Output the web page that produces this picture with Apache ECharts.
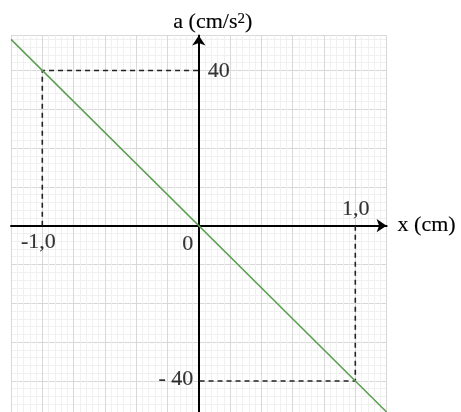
<!DOCTYPE html>
<html>
<head>
<meta charset="utf-8">
<script src="https://cdn.jsdelivr.net/npm/echarts@6/dist/echarts.min.js"></script>
<style>
  html, body { margin: 0; padding: 0; background: #fff; }
  #chart { width: 461px; height: 412px; }
</style>
</head>
<body>
<div id="chart"></div>
<script>
// a = -40 x  (cm/s^2 vs cm)
const lineX = [-1.2, 1.2]
const lineA = [48, -48]

// dashed guides to the extreme points
const guideX = [-1, 1]
const guideA = [40, -40]

// tick labels written next to the axes
const tickText = ['40', '- 40', '1,0', '-1,0', '0']
const tickAt = [[0, 40], [0, -40], [1, 0], [-1, 0], [0, 0]]

const serif = "'Liberation Serif', serif"
const major = '#d8d8d8'
const minor = '#f0f0f0'
const ink = { fontFamily: serif, fontSize: 22, color: '#000', textBorderColor: '#000', textBorderWidth: 0.15 }

// offsets of each tick label from its anchor
const tickOffset = [[20, 1], [-23, -2], [0.5, -16], [-4, 17], [-11, 19]]

const guides = guideX.map((x, i) => [[x, 0], [x, guideA[i]], [0, guideA[i]]])

const chart = echarts.init(document.getElementById('chart'))

chart.setOption({
  animation: false,
  grid: { left: 11, top: 35.5, width: 375.6, height: 379.1 },
  xAxis: {
    type: 'value',
    min: -1.2,
    max: 1.2,
    interval: 0.04,
    name: 'x (cm)',
    nameLocation: 'end',
    nameGap: 11,
    nameTextStyle: ink,
    axisLine: {
      onZero: true,
      symbol: ['none', 'arrow'],
      symbolSize: [10, 10],
      lineStyle: { color: '#000', width: 2 }
    },
    axisTick: { show: false },
    axisLabel: { show: false },
    splitLine: {
      show: true,
      lineStyle: { color: [major, minor, minor, minor, minor], width: 1 }
    }
  },
  yAxis: {
    type: 'value',
    min: -48,
    max: 49,
    interval: 2,
    name: 'a (cm/s{sup|2})',
    nameLocation: 'end',
    nameGap: 2,
    nameTextStyle: Object.assign({}, ink, {
      padding: [0, 0, 0, 28],
      rich: {
        sup: Object.assign({}, ink, { fontSize: 15, verticalAlign: 'top', padding: [0, 0, 7, 0] })
      }
    }),
    axisLine: {
      onZero: true,
      symbol: ['none', 'arrow'],
      symbolSize: [10, 10],
      lineStyle: { color: '#000', width: 2 }
    },
    axisTick: { show: false },
    axisLabel: { show: false },
    splitLine: {
      show: true,
      lineStyle: { color: [minor, minor, minor, minor, major], width: 1 }
    }
  },
  series: guides.map(g => ({
    type: 'line',
    data: g,
    symbol: 'none',
    lineStyle: { color: '#222', width: 1.6, type: [5, 4] }
  })).concat([
    {
      type: 'line',
      data: lineX.map((x, i) => [x, lineA[i]]),
      symbol: 'none',
      lineStyle: { color: '#5a9f50', width: 1.5 },
      z: 3
    },
    {
      type: 'scatter',
      symbolSize: 0,
      data: tickAt.map((p, i) => ({
        value: p,
        label: Object.assign({
          show: true,
          formatter: tickText[i],
          position: 'inside',
          offset: tickOffset[i]
        }, ink)
      })),
      z: 4
    }
  ])
})
</script>
</body>
</html>
